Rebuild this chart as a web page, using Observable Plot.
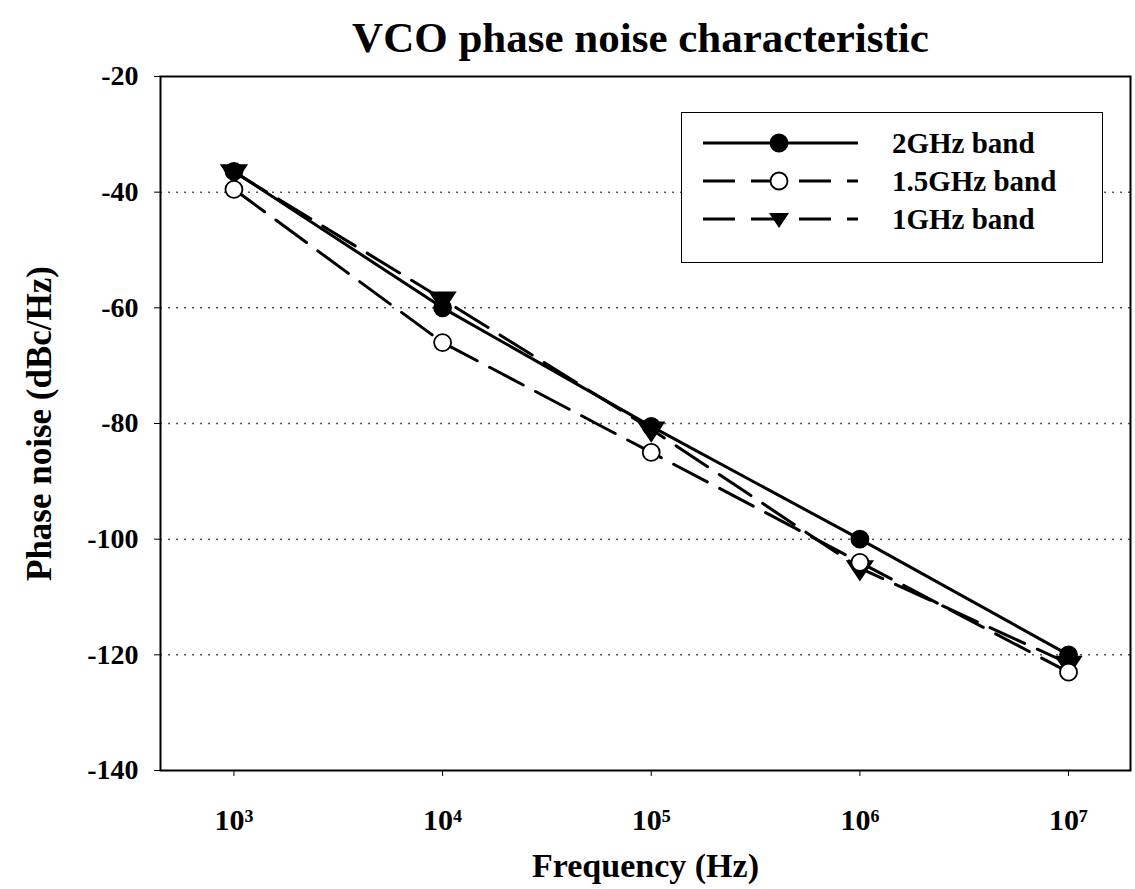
<!DOCTYPE html>
<html><head><meta charset="utf-8">
<script src="https://cdn.jsdelivr.net/npm/d3@7"></script>
<script src="https://cdn.jsdelivr.net/npm/@observablehq/plot@0.6"></script>
<style>
body{margin:0;background:#fff;font-family:"Liberation Serif","DejaVu Serif",serif;}
#wrap{position:relative;width:1135px;height:889px;}
#title{position:absolute;left:0;top:14px;width:1135px;text-align:center;font-weight:bold;font-size:43px;line-height:48px;padding-left:146px;box-sizing:border-box;z-index:2;}
#legend{position:absolute;left:681px;top:112px;width:422px;height:151px;border:1.5px solid #000;background:#fff;box-sizing:border-box;}
.row{position:absolute;left:0;height:36px;display:flex;align-items:center;}
.row span{position:absolute;left:210px;font-weight:bold;font-size:29px;white-space:nowrap;}
</style></head>
<body><div id="wrap"><div id="chart"></div><div id="title">VCO phase noise characteristic</div><div id="legend"></div></div>
<script>
const freqs = [1e3, 1e4, 1e5, 1e6, 1e7];
const band2GHz = [-36.4, -60, -80.5, -100, -120];
const band15GHz = [-39.5, -66, -85, -104, -123];
const band1GHz = [-36.5, -58.5, -81, -105, -121.5];
const seriesNames = ["2GHz band", "1.5GHz band", "1GHz band"];
const yTicks = [-20, -40, -60, -80, -100, -120, -140];
const xTickLabels = ["10³", "10⁴", "10⁵", "10⁶", "10⁷"];

const styles = {
  "2GHz band": {dash: null, symbol: "circle", fill: "#000"},
  "1.5GHz band": {dash: "38,14", symbol: "circle", fill: "#fff"},
  "1GHz band": {dash: "38,14", symbol: "triangle", fill: "#000"}
};
const values = [band2GHz, band15GHz, band1GHz];
const data = [];
seriesNames.forEach((s, i) => freqs.forEach((f, j) => data.push({series: s, f, v: values[i][j]})));

const downTri = {draw(ctx, size){const r=Math.sqrt(size)*0.9; ctx.moveTo(-r,-r*0.55); ctx.lineTo(r,-r*0.55); ctx.lineTo(0,r*0.95); ctx.closePath();}};
const xLabel = d => xTickLabels[freqs.findIndex(f => Math.abs(f - d) < 1e-6 * f)];

const marks = [
  Plot.gridY(yTicks.filter(t => t > -140 && t < -20), {stroke: "#555", strokeOpacity: 1, strokeDasharray: "2,6", strokeWidth: 1.5}),
  Plot.frame({stroke: "#000", strokeWidth: 2}),
  Plot.axisY({ticks: yTicks, tickSize: 6, tickPadding: 16, tickFormat: d => String(d), fontSize: 28, fontWeight: "bold", label: "Phase noise (dBc/Hz)", labelAnchor: "center", labelArrow: "none", labelOffset: 134}),
  Plot.axisX({ticks: freqs, tickSize: 6, tickPadding: 32, tickFormat: xLabel, fontSize: 30, fontWeight: "bold", label: "Frequency (Hz)", labelAnchor: "center", labelArrow: "none", labelOffset: 106})
];
seriesNames.forEach(s => {
  const st = styles[s];
  const d = data.filter(r => r.series === s);
  marks.push(Plot.line(d, {x: "f", y: "v", stroke: "#000", strokeWidth: 3, strokeDasharray: st.dash}));
});
["1GHz band", "1.5GHz band", "2GHz band"].forEach(s => {
  const st = styles[s];
  const d = data.filter(r => r.series === s);
  if (st.symbol === "triangle")
    marks.push(Plot.dot(d, {x: "f", y: "v", symbol: downTri, r: 8, fill: "#000", stroke: "#000"}));
  else
    marks.push(Plot.dot(d, {x: "f", y: "v", r: 8.5, fill: st.fill, stroke: "#000", strokeWidth: 1.8}));
});

const chart = Plot.plot({
  width: 1135, height: 889,
  marginLeft: 160, marginRight: 5, marginTop: 76, marginBottom: 119,
  style: {fontFamily: "'Liberation Serif', serif", color: "#000", background: "transparent", overflow: "visible"},
  x: {type: "log", domain: [Math.pow(10, 2.648), Math.pow(10, 7.297)]},
  y: {domain: [-140, -20]},
  marks
});
chart.querySelectorAll('[aria-label="y-axis tick label"]').forEach(g => {g.setAttribute("font-size", 28); g.setAttribute("font-weight", "bold");});
chart.querySelectorAll('[aria-label="x-axis tick label"]').forEach(g => {g.setAttribute("font-size", 30); g.setAttribute("font-weight", "bold");});
chart.querySelectorAll('[aria-label="y-axis label"]').forEach(g => {g.setAttribute("font-size", 35); g.setAttribute("font-weight", "bold");});
chart.querySelectorAll('[aria-label="x-axis label"]').forEach(g => {g.setAttribute("font-size", 34); g.setAttribute("font-weight", "bold");});
document.getElementById("chart").appendChild(chart);

// legend
const leg = document.getElementById("legend");
seriesNames.forEach((s, i) => {
  const st = styles[s];
  const row = document.createElement("div");
  row.className = "row";
  row.style.top = (12 + i * 38) + "px";
  const sym = st.symbol === "triangle"
    ? `<path d="M87,12 L107,12 L97,27 Z" fill="#000"/>`
    : `<circle cx="97" cy="18" r="8.5" fill="${st.fill}" stroke="#000" stroke-width="1.8"/>`;
  row.innerHTML = `<svg width="200" height="36"><line x1="21" x2="176" y1="18" y2="18" stroke="#000" stroke-width="3" ${st.dash ? `stroke-dasharray="32,16"` : ""}/>${sym}</svg><span>${s}</span>`;
  leg.appendChild(row);
});
</script></body></html>
